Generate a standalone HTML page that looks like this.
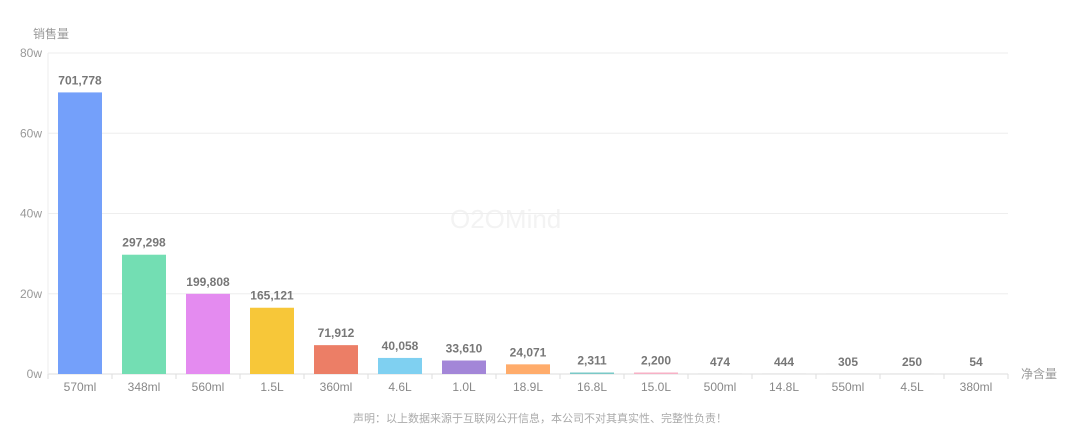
<!DOCTYPE html>
<html><head><meta charset="utf-8"><style>
body{margin:0;background:#fff;width:1080px;height:428px;overflow:hidden;font-family:"Liberation Sans","Noto Sans CJK SC",sans-serif}
svg text{font-family:"Liberation Sans","Noto Sans CJK SC",sans-serif}
</style></head><body>
<svg id="chart" width="1080" height="428" xmlns="http://www.w3.org/2000/svg">
<text x="33" y="38" font-size="12" fill="#999">销售量</text>
<text x="1021" y="378" font-size="12" fill="#999">净含量</text>
<text x="450" y="228" font-size="26" fill="#f3f3f3">O2OMind</text>
<text x="540" y="422" font-size="11" fill="#aaa" text-anchor="middle">声明：以上数据来源于互联网公开信息，本公司不对其真实性、完整性负责！</text>
<g id="grid"></g><g id="bars"></g>
</svg>
<script>
const categories=["570ml","348ml","560ml","1.5L","360ml","4.6L","1.0L","18.9L","16.8L","15.0L","500ml","14.8L","550ml","4.5L","380ml"];
const values=[701778,297298,199808,165121,71912,40058,33610,24071,2311,2200,474,444,305,250,54];
const colors=["#74a0fa","#73deb3","#e48bf0","#f7c739","#ec7e66","#7fd0f1","#a386d8","#ffac6b","#7ac9c7","#f7b1c6","#ccc","#ccc","#ccc","#ccc","#ccc"];
const yTicks=[0,200000,400000,600000,800000];
const yTickLabels=["0w","20w","40w","60w","80w"];
const X0=48,X1=1008,Y0=374,Y1=53,MAX=800000;
const ns="http://www.w3.org/2000/svg";
const bw=(X1-X0)/categories.length;
function y(v){return Y0-(v/MAX)*(Y0-Y1);}
function xc(i){return X0+bw*(i+0.5);}
function mk(t,a,p){const e=document.createElementNS(ns,t);for(const k in a)e.setAttribute(k,a[k]);p.appendChild(e);return e;}
const g=document.getElementById('grid'),b=document.getElementById('bars');
yTicks.forEach((t,i)=>{
 const l=mk('line',{x1:X0,x2:X1,y1:y(t),y2:y(t),stroke:i?'#eee':'#ddd'},g);
 
 
 const tx=mk('text',{x:42,y:y(t)+4,'font-size':12,fill:'#999','text-anchor':'end'},g);tx.textContent=yTickLabels[i];
 
 
});
const ax=mk('line',{x1:X0,x2:X0,y1:Y1,y2:Y0,stroke:'#eee'},g);


for(let i=0;i<=categories.length;i++){const tk=mk('line',{x1:X0+bw*i,x2:X0+bw*i,y1:Y0,y2:Y0+5,stroke:'#ddd'},g);
 
 }
categories.forEach((c,i)=>{
 const h=Math.max(Y0-y(values[i]),values[i]>1000?1.5:0);
 const r=mk('rect',{x:xc(i)-22,y:Y0-h,width:44,height:h,fill:colors[i]},b);
 
 
 const v=mk('text',{x:xc(i),y:Y0-h-8,'font-size':12,'font-weight':'bold',fill:'#777','text-anchor':'middle'},b);
 v.textContent=values[i].toLocaleString('en-US');
 
 
 const l=mk('text',{x:xc(i),y:391,'font-size':12,fill:'#888','text-anchor':'middle'},b);
 l.textContent=c;
 
 
});
</script>
</body></html>
